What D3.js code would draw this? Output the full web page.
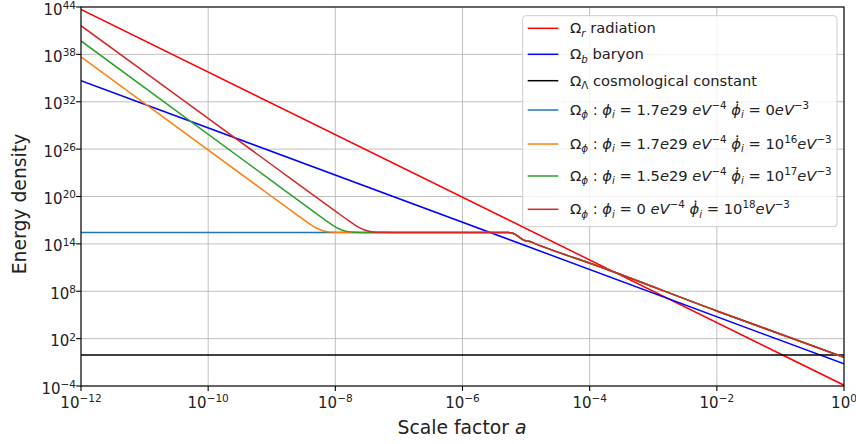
<!DOCTYPE html>
<html>
<head>
<meta charset="utf-8">
<script src="https://cdn.jsdelivr.net/npm/d3@7"></script>
<style>
  html, body { margin: 0; padding: 0; background: #fff; }
  svg text { font-family: "DejaVu Sans", sans-serif; white-space: pre; }
</style>
</head>
<body>
<svg id="chart" width="856" height="444"></svg>
<script>
// ---------- data (log10 values) ----------
const xTickExps = [-12, -10, -8, -6, -4, -2, 0];
const yTickExps = [-4, 2, 8, 14, 20, 26, 32, 38, 44];

const radiationLogA = [-12, 0];
const radiationLogRho = [43.7, -3.9];

const baryonLogA = [-12, 0];
const baryonLogRho = [34.67, -1.2];

const lambdaLogA = [-12, 0];
const lambdaLogRho = [-0.07, -0.07];

const phiTailLogA = [-5.3, -5.22, -5.17, -5.1, -5.02, -4.95, -4.88, -3.84, -2, 0];
const phiTailLogRho = [15.45, 15.38, 15.2, 14.8, 14.42, 14.33, 14.1, 11.1, 5.5, -0.35];

const phi1LogA = [-12, -5.5];
const phi1LogRho = [15.45, 15.45];

const phi2LogA = [-12, -9, -8.7, -8.5, -8.4, -8.3, -8.2, -8.1, -8.0, -7.8];
const phi2LogRho = [37.7, 20.0, 18.23, 17.06, 16.5, 16.01, 15.67, 15.52, 15.47, 15.45];

const phi3LogA = [-12, -9, -8.4, -8.2, -8.1, -8.0, -7.9, -7.8, -7.7, -7.5];
const phi3LogRho = [39.7, 21.97, 18.42, 17.25, 16.68, 16.16, 15.76, 15.55, 15.48, 15.45];

const phi4LogA = [-12, -9, -8, -7.8, -7.7, -7.6, -7.5, -7.4, -7.3, -7.1];
const phi4LogRho = [41.63, 24.02, 18.15, 16.99, 16.44, 15.96, 15.65, 15.51, 15.47, 15.45];

const seriesColors = ["red", "blue", "black", "#1f77b4", "#ff7f0e", "#2ca02c", "#d62728"];

// ---------- layout ----------
const svg = d3.select("#chart");
const L = 81, R = 844, T = 7, B = 386;
const FS = 15, SUB = 10.5, AX = 18.8;
const LFS = 14.7, LSUB = 10.3;

const x = d3.scaleLog().domain([1e-12, 1]).range([L, R]);
const y = d3.scaleLog().domain([1e-4, 1e44]).range([B, T]);

function pts(la, lr) { return la.map((a, i) => [Math.pow(10, a), Math.pow(10, lr[i])]); }

// rich text helper
function rich(textSel, segs) {
  let cur = 0;
  segs.forEach(s => {
    const shift = s.shift || 0;
    const ts = textSel.append("tspan").text(s.t).attr("dy", shift - cur);
    if (s.size) ts.attr("font-size", s.size);
    if (s.it) ts.attr("font-style", "italic");
    if (s.dot) ts.classed("dotme", true);
    cur = shift;
  });
}

// grid
const g = svg.append("g");
g.selectAll(".gx").data(xTickExps).enter().append("line")
  .attr("x1", d => x(Math.pow(10, d))).attr("x2", d => x(Math.pow(10, d)))
  .attr("y1", T).attr("y2", B).attr("stroke", "#b0b0b0").attr("stroke-width", 0.8);
g.selectAll(".gy").data(yTickExps).enter().append("line")
  .attr("y1", d => y(Math.pow(10, d))).attr("y2", d => y(Math.pow(10, d)))
  .attr("x1", L).attr("x2", R).attr("stroke", "#b0b0b0").attr("stroke-width", 0.8);

// clip
svg.append("clipPath").attr("id", "clip").append("rect")
  .attr("x", L).attr("y", T).attr("width", R - L).attr("height", B - T);

const line = d3.line().x(d => x(d[0])).y(d => y(d[1])).curve(d3.curveMonotoneX);
const plot = svg.append("g").attr("clip-path", "url(#clip)");

const allSeries = [
  pts(radiationLogA, radiationLogRho),
  pts(baryonLogA, baryonLogRho),
  pts(lambdaLogA, lambdaLogRho),
  pts(phi1LogA.concat(phiTailLogA), phi1LogRho.concat(phiTailLogRho)),
  pts(phi2LogA.concat(phiTailLogA), phi2LogRho.concat(phiTailLogRho)),
  pts(phi3LogA.concat(phiTailLogA), phi3LogRho.concat(phiTailLogRho)),
  pts(phi4LogA.concat(phiTailLogA), phi4LogRho.concat(phiTailLogRho))
];
allSeries.forEach((s, i) => {
  plot.append("path").attr("d", line(s)).attr("fill", "none")
    .attr("stroke", seriesColors[i]).attr("stroke-width", 1.5);
});

// spines
svg.append("rect").attr("x", L).attr("y", T).attr("width", R - L).attr("height", B - T)
  .attr("fill", "none").attr("stroke", "black").attr("stroke-width", 1.1);

// ticks + labels
xTickExps.forEach(e => {
  const px = x(Math.pow(10, e));
  svg.append("line").attr("x1", px).attr("x2", px).attr("y1", B).attr("y2", B + 4.9)
    .attr("stroke", "black").attr("stroke-width", 1.1);
  const t = svg.append("text").attr("x", px).attr("y", 408).attr("text-anchor", "middle")
    .attr("font-size", FS).attr("fill", "#222");
  rich(t, [{ t: "10" }, { t: e < 0 ? "\u2212" + (-e) : String(e), size: SUB, shift: -5.6 }]);
});
yTickExps.forEach(e => {
  const py = y(Math.pow(10, e));
  svg.append("line").attr("x1", L - 4.9).attr("x2", L).attr("y1", py).attr("y2", py)
    .attr("stroke", "black").attr("stroke-width", 1.1);
  const t = svg.append("text").attr("x", 76).attr("y", py + 7.5).attr("text-anchor", "end")
    .attr("font-size", FS).attr("fill", "#222");
  rich(t, [{ t: "10" }, { t: e < 0 ? "\u2212" + (-e) : String(e), size: SUB, shift: -5.6 }]);
});

// axis labels
const xl = svg.append("text").attr("x", 462).attr("y", 434).attr("text-anchor", "middle")
  .attr("font-size", AX).attr("fill", "#222");
rich(xl, [{ t: "Scale factor " }, { t: "a", it: true }]);
svg.append("text").attr("transform", "translate(26,204) rotate(-90)").attr("text-anchor", "middle")
  .attr("font-size", AX).attr("fill", "#222").text("Energy density");

// legend
const legendRowsY = [28.3, 54.3, 80.7, 110, 144, 176, 209.3];
const lg = svg.append("g");
lg.append("rect").attr("x", 522.7).attr("y", 15.7).attr("width", 314.3).attr("height", 211)
  .attr("rx", 3).attr("fill", "white").attr("fill-opacity", 0.8)
  .attr("stroke", "#cccccc").attr("stroke-width", 1);

const eq = " = ";
const SUP = -6, SB = 3.2;
function phiHead(val) {
  return [{ t: "\u03A9" }, { t: "\u03D5", it: true, size: LSUB, shift: SB }, { t: " : " },
    { t: "\u03D5", it: true }, { t: "i", it: true, size: LSUB, shift: SB }, { t: eq + val }];
}
function phiDot() {
  return [{ t: " " }, { t: "\u03D5", it: true, dot: true },
    { t: "i", it: true, size: LSUB, shift: SB }];
}
const legendSegs = [
  [{ t: "\u03A9" }, { t: "r", it: true, size: LSUB, shift: SB }, { t: " radiation" }],
  [{ t: "\u03A9" }, { t: "b", it: true, size: LSUB, shift: SB }, { t: " baryon" }],
  [{ t: "\u03A9" }, { t: "\u039B", size: LSUB, shift: SB }, { t: " cosmological constant" }],
  phiHead("1.7").concat([{ t: "e", it: true }, { t: "29 " }, { t: "eV", it: true }, { t: "\u22124", size: LSUB, shift: SUP }],
    phiDot(), [{ t: eq + "0" }, { t: "eV", it: true }, { t: "\u22123", size: LSUB, shift: SUP }]),
  phiHead("1.7").concat([{ t: "e", it: true }, { t: "29 " }, { t: "eV", it: true }, { t: "\u22124", size: LSUB, shift: SUP }],
    phiDot(), [{ t: eq + "10" }, { t: "16", size: LSUB, shift: SUP }, { t: "eV", it: true }, { t: "\u22123", size: LSUB, shift: SUP }]),
  phiHead("1.5").concat([{ t: "e", it: true }, { t: "29 " }, { t: "eV", it: true }, { t: "\u22124", size: LSUB, shift: SUP }],
    phiDot(), [{ t: eq + "10" }, { t: "17", size: LSUB, shift: SUP }, { t: "eV", it: true }, { t: "\u22123", size: LSUB, shift: SUP }]),
  phiHead("0 ").concat([{ t: "eV", it: true }, { t: "\u22124", size: LSUB, shift: SUP }],
    phiDot(), [{ t: eq + "10" }, { t: "18", size: LSUB, shift: SUP }, { t: "eV", it: true }, { t: "\u22123", size: LSUB, shift: SUP }])
];
legendSegs.forEach((segs, i) => {
  const ly = legendRowsY[i];
  lg.append("line").attr("x1", 527.7).attr("x2", 558.3).attr("y1", ly).attr("y2", ly)
    .attr("stroke", seriesColors[i]).attr("stroke-width", 1.5);
  const t = lg.append("text").attr("x", 570).attr("y", ly + 5).attr("font-size", LFS).attr("fill", "#222");
  rich(t, segs);
});
// dots over the phi-dot glyphs
lg.selectAll("tspan.dotme").each(function () {
  const bb = this.getBBox();
  lg.append("circle").attr("cx", bb.x + bb.width * 0.6).attr("cy", bb.y + 1.2)
    .attr("r", 1.05).attr("fill", "#222");
});
</script>
</body>
</html>
